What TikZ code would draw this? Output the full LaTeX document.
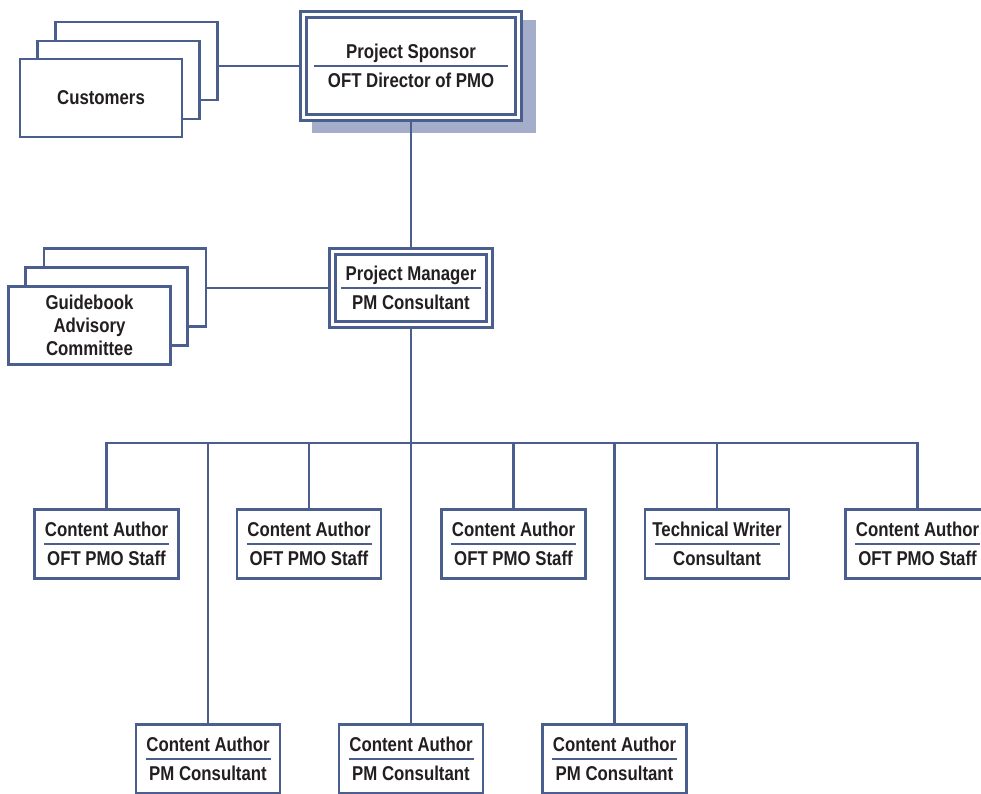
\documentclass[tikz,border=0pt]{standalone}
\usepackage{fontspec}
\setmainfont{Liberation Sans}[FakeStretch=0.84]

\definecolor{orgblue}{RGB}{74,95,141}
\definecolor{shadeblue}{RGB}{164,173,202}
\definecolor{inkgray}{RGB}{35,31,32}

% title, blue rule, subtitle
\newcommand{\roletext}[3]{#2\\[-14pt]{\color{orgblue}\rule{#1}{2.4pt}}\\[-2.5pt]#3}

\begin{document}
\begin{tikzpicture}[x=1pt,y=-1pt,line width=2.8pt,color=orgblue]
\tikzstyle{every node}=[font=\fontsize{20}{23}\selectfont\bfseries,text=inkgray,align=center]
\tikzstyle{rolebox}=[rectangle,draw=orgblue,fill=white,minimum width=144pt,minimum height=69pt,inner sep=0pt]
\tikzstyle{headbox}=[rolebox,line width=2.6pt,double=white,double distance=3.4pt,outer sep=4.3pt]
\tikzstyle{stackbox}=[rolebox,minimum width=162pt,minimum height=78pt]
\path[use as bounding box,clip] (0,0) rectangle (981,793);

\fill[shadeblue] (312,20) rectangle (536,133);
\node[headbox,minimum width=214.5pt,minimum height=103.5pt](spons) at (411,66) {\roletext{194pt}{Project Sponsor}{OFT Director of PMO}};

\node[stackbox](cust1) at (136.5,61) {};
\node[stackbox](cust2) at (118.5,80) {};
\node[stackbox](cust3) at (101,98) {Customers};

\node[headbox,minimum width=157.5pt,minimum height=73.5pt](pm) at (411,288) {\roletext{140pt}{Project Manager}{PM Consultant}};

\node[stackbox](gac1) at (125,287.5) {};
\node[stackbox](gac2) at (106.5,306.5) {};
\node[stackbox](gac3) at (89.5,325.5) {Guidebook\\Advisory\\Committee};

\node[rolebox](ca1) at (106.5,544) {\roletext{125pt}{Content Author}{OFT PMO Staff}};
\node[rolebox](ca2) at (309,544) {\roletext{125pt}{Content Author}{OFT PMO Staff}};
\node[rolebox](ca3) at (513.5,544) {\roletext{125pt}{Content Author}{OFT PMO Staff}};
\node[rolebox](tw) at (717,544) {\roletext{125pt}{Technical Writer}{Consultant}};
\node[rolebox](ca5) at (917.5,544) {\roletext{125pt}{Content Author}{OFT PMO Staff}};

\node[rolebox](cp1) at (208,759) {\roletext{125pt}{Content Author}{PM Consultant}};
\node[rolebox](cp2) at (411,759) {\roletext{125pt}{Content Author}{PM Consultant}};
\node[rolebox](cp3) at (614.5,759) {\roletext{125pt}{Content Author}{PM Consultant}};

\coordinate (bus) at (411,443);

\draw (spons.west) -- (spons.west -| cust1.east);
\draw (spons) -- (pm);
\draw (pm.west) -- (pm.west -| gac1.east);
\draw (pm) -- (cp2);
\draw (ca1.north) |- (bus) -| (ca5.north);
\draw (ca2.north) -- (ca2.north |- bus);
\draw (ca3.north) -- (ca3.north |- bus);
\draw (tw.north) -- (tw.north |- bus);
\draw (cp1.north) -- (cp1.north |- bus);
\draw (cp3.north) -- (cp3.north |- bus);
\end{tikzpicture}
\end{document}
